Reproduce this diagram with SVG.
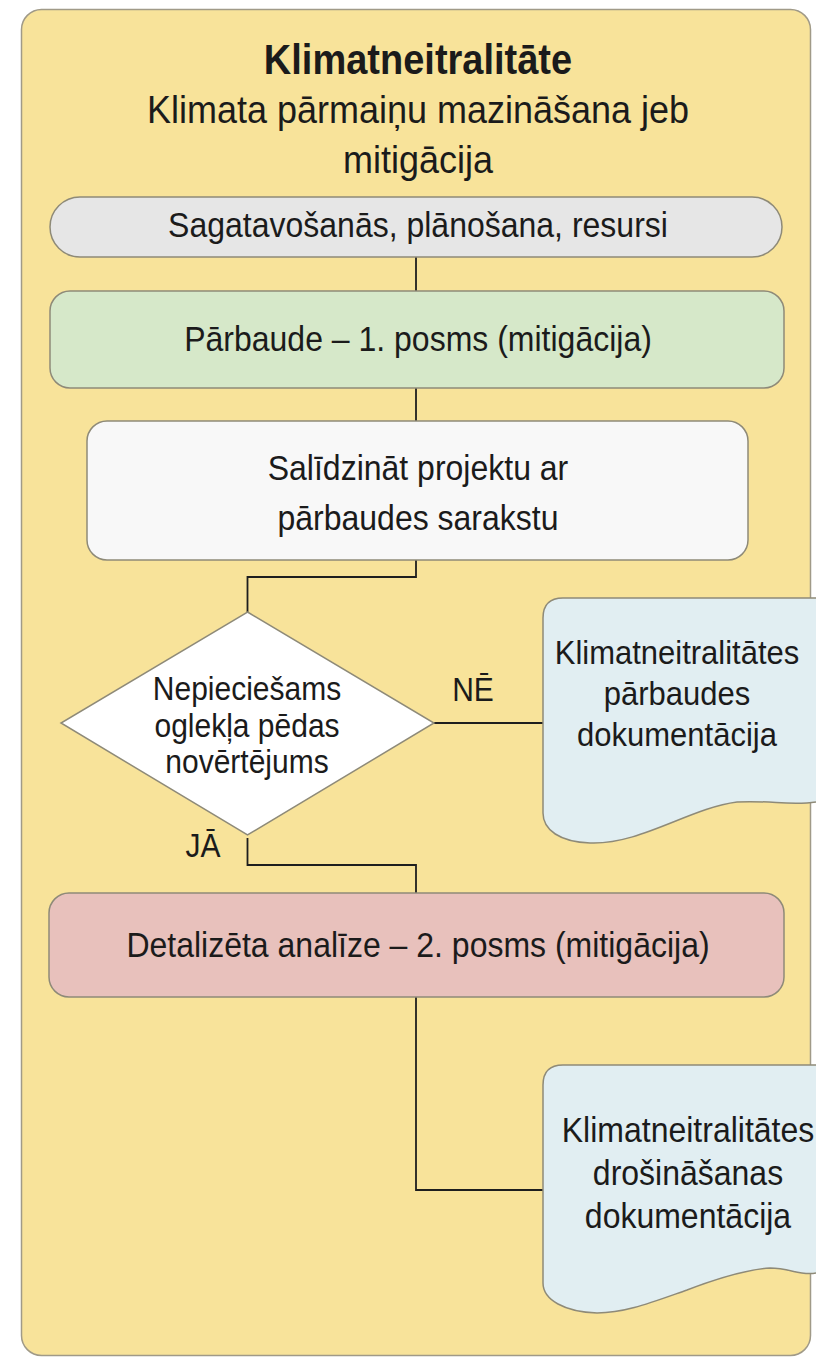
<svg xmlns="http://www.w3.org/2000/svg" width="816" height="1357" viewBox="0 0 816 1357">
<style>
text{font-family:"Liberation Sans",Arial,sans-serif;fill:#1b1b1b;text-anchor:middle}
.t30{font-size:30px}.t31{font-size:31px}.t32{font-size:32px}.t36{font-size:36px}
.b{font-weight:bold;font-size:38px}
.box{stroke:#8e8a78;stroke-width:1.5}
.conn{fill:none;stroke:#1e1e1e;stroke-width:1.8}
</style>
<rect id="container" x="21.5" y="9.5" width="789" height="1346" rx="20" fill="#F8E39A" stroke="#a09a88" stroke-width="1.5"/>
<g id="title">
<text class="b" transform="translate(418,74) scale(1,1.1)">Klimatneitralitāte</text>
<text class="t36" transform="translate(418,123) scale(1,1.08)">Klimata pārmaiņu mazināšana jeb</text>
<text class="t36" transform="translate(418,173) scale(1,1.08)">mitigācija</text>
</g>
<g id="connectors">
<path class="conn" d="M416,257 V291"/>
<path class="conn" d="M416,388 V421"/>
<path class="conn" d="M416,560 V577 H247.5 V612"/>
<path class="conn" d="M434,723 H543"/>
<path class="conn" d="M247.5,838 V865 H416 V893"/>
<path class="conn" d="M416,997 V1190 H543"/>
<text class="t30" transform="translate(473,701) scale(1,1.08)">NĒ</text>
<text class="t30" transform="translate(203,857) scale(1,1.08)">JĀ</text>
</g>
<g id="prep">
<rect class="box" x="50" y="197" width="732" height="60" rx="30" fill="#E6E6E6"/>
<text class="t32" transform="translate(418,237) scale(1,1.08)">Sagatavošanās, plānošana, resursi</text>
</g>
<g id="stage1">
<rect class="box" x="50" y="291" width="734" height="97" rx="20" fill="#D6E8C9"/>
<text class="t32" transform="translate(418,351) scale(1,1.08)">Pārbaude – 1. posms (mitigācija)</text>
</g>
<g id="compare">
<rect class="box" x="87" y="421" width="661" height="139" rx="20" fill="#F8F8F8"/>
<text class="t32" transform="translate(418,480) scale(1,1.08)">Salīdzināt projektu ar</text>
<text class="t32" transform="translate(418,530) scale(1,1.08)">pārbaudes sarakstu</text>
</g>
<g id="decision">
<polygon class="box" points="247.5,612 434,723 247.5,835 61,723" fill="#FFFFFF" stroke-width="1"/>
<text class="t30" transform="translate(247,700) scale(1,1.08)">Nepieciešams</text>
<text class="t30" transform="translate(247,737) scale(1,1.08)">oglekļa pēdas</text>
<text class="t30" transform="translate(247,773) scale(1,1.08)">novērtējums</text>
</g>
<g id="doc1">
<path d="M543,618 Q543,598 563,598 H816 V802 C790,806 770,800 737,802 C690,808 640,845 590,843 C560,842 543,830 543,813 Z" fill="#E1EEF2"/>
<path class="box" fill="none" d="M816,598 H563 Q543,598 543,618 V813 C543,830 560,842 590,843 C640,845 690,808 737,802 C770,800 790,806 816,802"/>
<text class="t31" transform="translate(677,664) scale(1,1.08)">Klimatneitralitātes</text>
<text class="t31" transform="translate(677,705) scale(1,1.08)">pārbaudes</text>
<text class="t31" transform="translate(677,746) scale(1,1.08)">dokumentācija</text>
</g>
<g id="stage2">
<rect class="box" x="49" y="893" width="735" height="104" rx="20" fill="#E8C1BC"/>
<text class="t32" transform="translate(418,957) scale(1,1.08)">Detalizēta analīze – 2. posms (mitigācija)</text>
</g>
<g id="doc2">
<path d="M543,1085 Q543,1065 563,1065 H816 V1273 C800,1276 790,1268 770,1268 C740,1270 700,1285 687,1290 C650,1303 625,1313 597,1313 C565,1312 543,1300 543,1283 Z" fill="#E1EEF2"/>
<path class="box" fill="none" d="M816,1065 H563 Q543,1065 543,1085 V1283 C543,1300 565,1312 597,1313 C625,1313 650,1303 687,1290 C700,1285 740,1270 770,1268 C790,1268 800,1276 816,1273"/>
<text class="t32" transform="translate(688,1142) scale(1,1.08)">Klimatneitralitātes</text>
<text class="t32" transform="translate(688,1185) scale(1,1.08)">drošināšanas</text>
<text class="t32" transform="translate(688,1228) scale(1,1.08)">dokumentācija</text>
</g>
</svg>
